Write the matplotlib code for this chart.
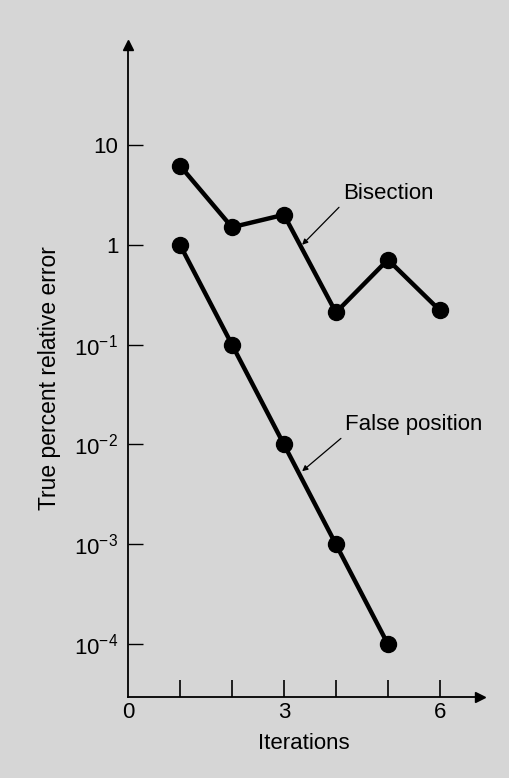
import numpy as np
import matplotlib.pyplot as plt

plt.rcParams['font.family'] = ['Liberation Sans', 'DejaVu Sans']
plt.rcParams['mathtext.fontset'] = 'custom'
plt.rcParams['mathtext.rm'] = 'Liberation Sans'
plt.rcParams['mathtext.it'] = 'Liberation Sans:italic'
plt.rcParams['mathtext.bf'] = 'Liberation Sans:bold'

# data
iters_bis = [1, 2, 3, 4, 5, 6]
err_bis = [6.2, 1.5, 2.0, 0.21, 0.71, 0.22]
iters_fp = [1, 2, 3, 4, 5]
err_fp = [1.0, 0.1, 0.01, 0.001, 0.0001]

ytick_vals = [1e-4, 1e-3, 1e-2, 1e-1, 1, 10]
ytick_labels = ['$10^{-4}$', '$10^{-3}$', '$10^{-2}$', '$10^{-1}$', '1', '10']
xtick_vals = [1, 2, 3, 4, 5, 6]
xlabel_vals = [0, 3, 6]

bg = '#d6d6d6'
fig = plt.figure(figsize=(5.1, 7.78), dpi=100, facecolor=bg)
ax = fig.add_axes([0.251, 0.104, 0.69, 0.838])
ax.set_facecolor(bg)

ax.plot(iters_bis, err_bis, color='black', lw=3.2, marker='o', ms=11.5, zorder=3)
ax.plot(iters_fp, err_fp, color='black', lw=3.2, marker='o', ms=11.5, zorder=3)

ax.set_yscale('log')
ax.set_ylim(10 ** -4.53, 10 ** 2)
ax.set_xlim(0, 6.77)

ax.spines['top'].set_visible(False)
ax.spines['right'].set_visible(False)
ax.spines['left'].set_linewidth(1.3)
ax.spines['bottom'].set_linewidth(1.3)
# axis arrows
ax.plot(0, 1, '^', color='black', ms=7, transform=ax.transAxes, clip_on=False)
ax.plot(1, 0, '>', color='black', ms=7, transform=ax.transAxes, clip_on=False)

ax.set_yticks(ytick_vals)
ax.set_yticklabels(ytick_labels, fontsize=16)
ax.yaxis.set_minor_locator(plt.NullLocator())
ax.tick_params(axis='y', direction='in', length=11, width=1, pad=7)

ax.set_xticks(xtick_vals)
ax.set_xticklabels([''] * len(xtick_vals))
ax.tick_params(axis='x', direction='in', length=12, width=1.2)
for v in xlabel_vals:
    ax.text(v, -0.008, str(v), transform=ax.get_xaxis_transform(),
            ha='center', va='top', fontsize=16)

ax.set_xlabel('Iterations', fontsize=16, labelpad=22)
ax.set_ylabel('True percent relative error', fontsize=16.5)
ax.yaxis.set_label_coords(-0.19, 0.49)

arrow_style = dict(arrowstyle='-|>', color='black', lw=0.9, mutation_scale=8,
                   shrinkA=1, shrinkB=0, relpos=(0.0, 0.0))
ax.annotate('Bisection', xy=(3.35, 1.0), xytext=(4.13, 3.3),
            fontsize=16, ha='left', va='center', arrowprops=arrow_style)
ax.annotate('False position', xy=(3.35, 0.0054), xytext=(4.17, 0.0158),
            fontsize=16, ha='left', va='center', arrowprops=arrow_style)

fig.savefig('out.png', dpi=100, facecolor=bg)
